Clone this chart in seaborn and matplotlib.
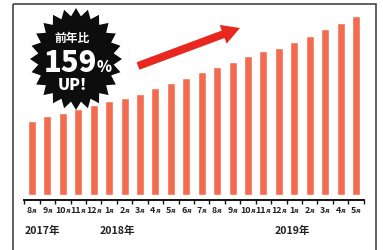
import numpy as np
import pandas as pd
import matplotlib
matplotlib.use("Agg")
import matplotlib.pyplot as plt
import seaborn as sns
from matplotlib.offsetbox import TextArea, HPacker, AnnotationBbox
from matplotlib.patches import Polygon, FancyArrow, Rectangle
from matplotlib.ticker import FixedLocator

# データ (2017年8月 〜 2019年5月)
months = ["2017-08", "2017-09", "2017-10", "2017-11", "2017-12",
          "2018-01", "2018-02", "2018-03", "2018-04", "2018-05", "2018-06",
          "2018-07", "2018-08", "2018-09", "2018-10", "2018-11", "2018-12",
          "2019-01", "2019-02", "2019-03", "2019-04", "2019-05"]
month_nums = ["8", "9", "10", "11", "12", "1", "2", "3", "4", "5", "6",
              "7", "8", "9", "10", "11", "12", "1", "2", "3", "4", "5"]
sales = [74, 79, 82, 86, 90, 94, 97, 101, 107, 112, 117,
         123, 128, 133, 139, 144, 147, 153, 159, 166, 172, 179]
year_labels = ["2017年", "2018年", "2019年"]

df = pd.DataFrame({"month": months, "sales": sales})

sns.set_style("white")
plt.rcParams["font.family"] = ["Noto Sans CJK JP", "DejaVu Sans"]

W, H = 383, 251
fig = plt.figure(figsize=(W / 100, H / 100), dpi=100)

# 棒グラフの軸 (ピクセル位置から)
ax = fig.add_axes([24.3 / W, (H - 201) / H, 339.4 / W, 196 / H])
sns.barplot(data=df, x="month", y="sales", order=months, color="#f36c4f",
            width=0.52, saturation=1, ax=ax)
ax.set_xlim(-0.5, len(months) - 0.5)
ax.set_ylim(-5, 191)
ax.set_xlabel("")
ax.set_ylabel("")
ax.set_yticks([])
for s in ["left", "top", "right"]:
    ax.spines[s].set_visible(False)
ax.spines["bottom"].set_color("#111111")
ax.spines["bottom"].set_linewidth(1.4)
ax.set_xticks(range(len(months)))
ax.set_xticklabels([])
ax.tick_params(axis="x", which="major", length=0)
ax.xaxis.set_minor_locator(FixedLocator(np.arange(-0.5, len(months), 1.0)))
ax.tick_params(axis="x", which="minor", length=3, width=1, color="#111111",
               direction="out", bottom=True)
ax.patch.set_visible(False)

# 月ラベル (数字 + 小さい「月」)
for i, n in enumerate(month_nums):
    num = TextArea(n, textprops=dict(fontsize=6.4, fontweight="bold", color="#222222"))
    tsuki = TextArea("月", textprops=dict(fontsize=3.6, fontweight="bold", color="#222222"))
    box = HPacker(children=[num, tsuki], align="baseline", pad=0, sep=0)
    ab = AnnotationBbox(box, (i, -5), xybox=(0, -3.5), xycoords="data",
                        boxcoords="offset points", box_alignment=(0.5, 1),
                        frameon=False, pad=0, annotation_clip=False)
    ax.add_artist(ab)

# 年ラベル
year_x = [-0.45, 4.4, 15.7]
for x, lab in zip(year_x, year_labels):
    ax.text(x, -35, lab, fontsize=7.6, fontweight="bold", color="#222222",
            ha="left", va="center")

# 装飾用のオーバーレイ (ピクセル座標)
ov = fig.add_axes([0, 0, 1, 1])
ov.set_xlim(0, W)
ov.set_ylim(H, 0)
ov.axis("off")
ov.patch.set_visible(False)

# 外枠
ov.add_patch(Rectangle((13, 5), 363, 260, fill=False, edgecolor="#444444", linewidth=1.2))

# 星形バッジ
cx, cy = 76, 60
n_spikes = 24
ang = np.linspace(0, 2 * np.pi, n_spikes * 2, endpoint=False) - np.pi / 2
rx = np.where(np.arange(n_spikes * 2) % 2 == 0, 46, 38)
ry = np.where(np.arange(n_spikes * 2) % 2 == 0, 51, 43)
pts = np.column_stack([cx + rx * np.cos(ang), cy + ry * np.sin(ang)])
ov.add_patch(Polygon(pts, closed=True, facecolor="#0d0d0d", edgecolor="none"))
ov.text(72, 38, "前年比", fontsize=8.5, fontweight="bold", color="white",
        ha="center", va="center")
ov.text(97, 72, "159", fontsize=21, fontweight="black", color="white",
        ha="right", va="baseline")
ov.text(97, 72, "%", fontsize=11, fontweight="black", color="white",
        ha="left", va="baseline")
ov.text(72, 90, "UP!", fontsize=11.5, fontweight="black", color="white",
        ha="center", va="baseline")

# 右上がりの矢印
ov.add_patch(FancyArrow(138, 67, 102, -38, width=8, head_width=20, head_length=18,
                        length_includes_head=True, facecolor="#e8281f",
                        edgecolor="none"))

fig.savefig("out.png", dpi=100, facecolor="white")
